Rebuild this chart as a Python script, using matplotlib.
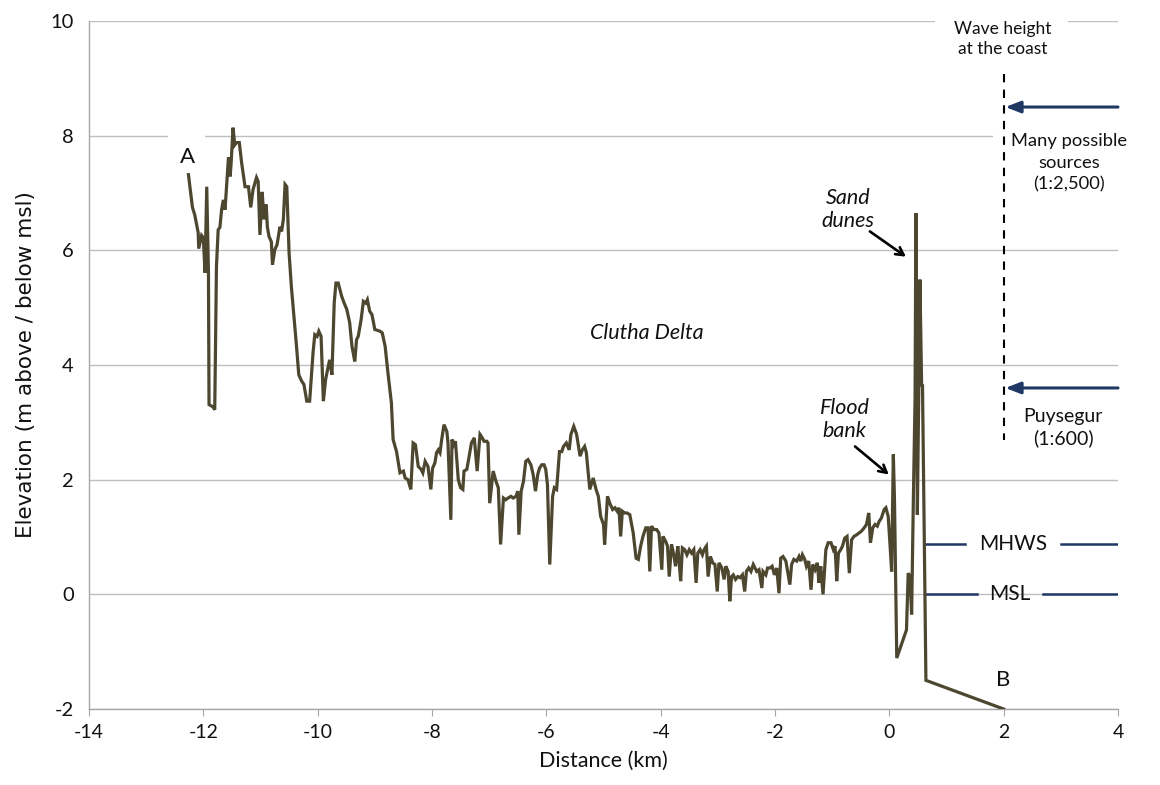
import matplotlib
matplotlib.use("Agg")
import matplotlib.pyplot as plt
from matplotlib.patches import Rectangle

plt.rcParams['font.family'] = ['Lato', 'DejaVu Sans']

# Profile A -> B: distance (km) and elevation (m above / below msl)
distance_km = [
    -12.26, -12.19, -12.15, -12.09, -12.08, -12.03, -12.00, -11.97, -11.94, -11.91,
    -11.90, -11.83, -11.80, -11.77, -11.74, -11.71, -11.68, -11.65, -11.62, -11.56,
    -11.53, -11.51, -11.48, -11.45, -11.42, -11.37, -11.33, -11.27, -11.21, -11.17,
    -11.13, -11.07, -11.04, -11.01, -10.97, -10.94, -10.90, -10.88, -10.85, -10.81,
    -10.79, -10.75, -10.71, -10.66, -10.63, -10.60, -10.57, -10.54, -10.50, -10.46,
    -10.40, -10.37, -10.33, -10.28, -10.24, -10.19, -10.14, -10.08, -10.05, -10.01,
    -9.98, -9.94, -9.90, -9.86, -9.82, -9.79, -9.75, -9.71, -9.68, -9.64,
    -9.58, -9.54, -9.49, -9.44, -9.40, -9.35, -9.32, -9.29, -9.24, -9.20,
    -9.16, -9.13, -9.09, -9.05, -9.00, -8.91, -8.87, -8.82, -8.77, -8.71,
    -8.68, -8.62, -8.56, -8.50, -8.47, -8.42, -8.37, -8.33, -8.29, -8.24,
    -8.19, -8.16, -8.12, -8.07, -8.02, -7.99, -7.95, -7.92, -7.89, -7.86,
    -7.83, -7.79, -7.74, -7.72, -7.67, -7.65, -7.62, -7.59, -7.54, -7.50,
    -7.46, -7.44, -7.39, -7.35, -7.31, -7.26, -7.21, -7.16, -7.12, -7.09,
    -7.04, -7.02, -6.99, -6.93, -6.88, -6.84, -6.80, -6.75, -6.71, -6.67,
    -6.62, -6.58, -6.53, -6.50, -6.48, -6.44, -6.40, -6.36, -6.32, -6.27,
    -6.23, -6.19, -6.15, -6.12, -6.08, -6.04, -6.01, -5.98, -5.94, -5.89,
    -5.86, -5.82, -5.77, -5.73, -5.70, -5.65, -5.60, -5.57, -5.52, -5.47,
    -5.41, -5.37, -5.33, -5.30, -5.24, -5.18, -5.13, -5.09, -5.05, -5.00,
    -4.98, -4.93, -4.89, -4.84, -4.80, -4.76, -4.73, -4.70, -4.67, -4.63,
    -4.59, -4.54, -4.48, -4.43, -4.39, -4.35, -4.31, -4.26, -4.22, -4.19,
    -4.16, -4.12, -4.07, -4.03, -3.98, -3.96, -3.91, -3.88, -3.85, -3.81,
    -3.77, -3.74, -3.70, -3.68, -3.65, -3.62, -3.58, -3.54, -3.50, -3.46,
    -3.42, -3.38, -3.35, -3.31, -3.27, -3.24, -3.20, -3.17, -3.13, -3.09,
    -3.05, -3.01, -2.98, -2.93, -2.89, -2.86, -2.82, -2.79, -2.76, -2.73,
    -2.69, -2.65, -2.61, -2.57, -2.53, -2.50, -2.46, -2.42, -2.38, -2.35,
    -2.32, -2.28, -2.23, -2.21, -2.16, -2.13, -2.09, -2.05, -2.01, -1.97,
    -1.93, -1.90, -1.86, -1.81, -1.78, -1.74, -1.71, -1.67, -1.62, -1.58,
    -1.55, -1.52, -1.48, -1.45, -1.41, -1.37, -1.34, -1.30, -1.26, -1.23,
    -1.20, -1.16, -1.11, -1.07, -1.02, -0.98, -0.95, -0.92, -0.89, -0.85,
    -0.82, -0.78, -0.74, -0.70, -0.66, -0.62, -0.57, -0.53, -0.49, -0.44,
    -0.40, -0.36, -0.33, -0.29, -0.25, -0.21, -0.18, -0.14, -0.09, -0.06,
    -0.02, 0.01, 0.04, 0.07, 0.09, 0.13, 0.30, 0.33, 0.36, 0.39,
    0.42, 0.45, 0.465, 0.48, 0.49, 0.52, 0.535, 0.565, 0.58, 0.64,
    2.00,
]
elevation_m = [
    7.32, 6.75, 6.62, 6.31, 6.03, 6.26, 6.22, 5.61, 7.11, 5.61,
    3.31, 3.27, 3.22, 5.72, 6.36, 6.40, 6.71, 6.88, 6.71, 7.62,
    7.29, 7.58, 8.14, 7.84, 7.88, 7.88, 7.53, 7.11, 7.11, 6.75,
    7.06, 7.27, 7.20, 6.27, 7.02, 6.54, 6.80, 6.41, 6.24, 6.15,
    5.75, 6.01, 6.10, 6.41, 6.33, 6.54, 7.15, 7.11, 5.96, 5.37,
    4.67, 4.33, 3.83, 3.72, 3.66, 3.37, 3.37, 4.22, 4.53, 4.50,
    4.59, 4.50, 3.37, 3.75, 3.95, 4.09, 3.83, 5.09, 5.43, 5.43,
    5.20, 5.09, 4.97, 4.74, 4.33, 4.06, 4.44, 4.50, 4.79, 5.11,
    5.08, 5.14, 4.94, 4.88, 4.62, 4.59, 4.56, 4.33, 3.86, 3.34,
    2.70, 2.49, 2.12, 2.15, 2.03, 2.00, 1.83, 2.64, 2.61, 2.23,
    2.18, 2.12, 2.32, 2.23, 1.83, 2.20, 2.29, 2.47, 2.52, 2.47,
    2.70, 2.96, 2.84, 2.64, 1.30, 2.70, 2.61, 2.67, 2.00, 1.86,
    1.83, 2.15, 2.18, 2.41, 2.64, 2.73, 2.15, 2.79, 2.73, 2.67,
    2.67, 2.64, 1.59, 2.15, 1.97, 1.86, 0.87, 1.68, 1.65, 1.68,
    1.71, 1.68, 1.71, 1.80, 1.04, 1.80, 1.97, 2.32, 2.35, 2.26,
    2.09, 1.80, 2.09, 2.20, 2.26, 2.26, 2.18, 1.91, 0.52, 1.71,
    1.86, 1.83, 2.49, 2.49, 2.58, 2.64, 2.52, 2.79, 2.93, 2.79,
    2.41, 2.52, 2.58, 2.47, 1.83, 2.03, 1.83, 1.71, 1.36, 1.22,
    0.87, 1.71, 1.59, 1.48, 1.51, 1.45, 1.51, 1.01, 1.45, 1.42,
    1.42, 1.39, 1.07, 0.63, 0.61, 0.84, 1.01, 1.16, 1.16, 0.40,
    1.19, 1.13, 1.13, 1.07, 0.43, 1.01, 0.92, 0.84, 0.31, 0.87,
    0.69, 0.49, 0.84, 0.61, 0.23, 0.81, 0.78, 0.69, 0.78, 0.72,
    0.78, 0.20, 0.72, 0.78, 0.69, 0.78, 0.84, 0.31, 0.66, 0.55,
    0.52, 0.05, 0.55, 0.46, 0.26, 0.49, 0.40, -0.12, 0.31, 0.34,
    0.26, 0.31, 0.29, 0.34, 0.05, 0.40, 0.46, 0.40, 0.52, 0.46,
    0.40, 0.43, 0.11, 0.40, 0.34, 0.46, 0.46, 0.49, 0.34, 0.46,
    0.02, 0.63, 0.66, 0.58, 0.40, 0.17, 0.52, 0.61, 0.58, 0.66,
    0.58, 0.69, 0.61, 0.49, 0.58, 0.08, 0.52, 0.43, 0.55, 0.20,
    0.49, 0.00, 0.78, 0.90, 0.90, 0.78, 0.84, 0.23, 0.72, 0.78,
    0.84, 0.98, 1.01, 0.37, 0.95, 1.01, 1.04, 1.07, 1.10, 1.16,
    1.22, 1.42, 0.90, 1.16, 1.22, 1.19, 1.27, 1.33, 1.48, 1.51,
    1.36, 0.90, 0.40, 2.44, 1.65, -1.11, -0.62, 0.37, 0.31, -0.35,
    1.65, 3.40, 6.65, 3.40, 1.39, 3.98, 5.49, 3.63, 3.66, -1.50,
    -2.00,
]

x_ticks = [-14, -12, -10, -8, -6, -4, -2, 0, 2, 4]
y_ticks = [-2, 0, 2, 4, 6, 8, 10]

# reference levels (m)
mhws_level = 0.88
msl_level = 0.0

line_color = '#4D4730'
navy = '#1F3864'
grid_color = '#BFBFBF'
axis_color = '#A6A6A6'
text_color = '#111111'

fig = plt.figure(figsize=(11.6, 7.85), dpi=100)
ax = fig.add_axes([0.0767, 0.0968, 0.8871, 0.8764])
ax.set_xlim(-14, 4)
ax.set_ylim(-2, 10)
ax.set_xticks(x_ticks)
ax.set_yticks(y_ticks)
ax.set_xticklabels([str(v) for v in x_ticks])
ax.set_yticklabels([str(v) for v in y_ticks])

for s in ['top', 'right']:
    ax.spines[s].set_visible(False)
for s in ['left', 'bottom']:
    ax.spines[s].set_color(axis_color)
    ax.spines[s].set_linewidth(1.0)
ax.tick_params(axis='x', direction='out', length=5, color=axis_color,
               labelsize=14, pad=6, labelcolor=text_color)
ax.tick_params(axis='y', length=0, labelsize=14.5, pad=11, labelcolor=text_color)

ax.set_axisbelow(True)
ax.yaxis.grid(True, color=grid_color, linewidth=1.0, zorder=0)
ax.xaxis.grid(False)

# white masks where text boxes interrupt the gridlines
for (x0, x1, yv) in [(0.80, 3.12, 10), (-12.62, -11.97, 8), (1.81, 4.0, 8)]:
    ax.add_patch(Rectangle((x0, yv - 0.06), x1 - x0, 0.12, facecolor='white',
                           edgecolor='none', zorder=1, clip_on=False))

ax.plot(distance_km, elevation_m, color=line_color, linewidth=2.3,
        solid_joinstyle='miter', zorder=3)

# MHWS and MSL markers
ax.plot([0.64, 1.32], [mhws_level, mhws_level], color=navy, lw=1.8, zorder=2)
ax.plot([3.01, 4.0], [mhws_level, mhws_level], color=navy, lw=1.8, zorder=2)
ax.plot([0.64, 1.54], [msl_level, msl_level], color=navy, lw=1.8, zorder=2)
ax.plot([2.69, 4.0], [msl_level, msl_level], color=navy, lw=1.8, zorder=2)
ax.text(2.16, mhws_level, 'MHWS', ha='center', va='center', fontsize=15, color=text_color)
ax.text(2.11, msl_level, 'MSL', ha='center', va='center', fontsize=15, color=text_color)

# wave height dashed line
ax.plot([2.0, 2.0], [9.07, 2.69], color='black', lw=1.5, linestyle=(0, (4, 3.5)), zorder=2)
ax.text(1.99, 9.69, 'Wave height\nat the coast', ha='center', va='center',
        fontsize=12.5, linespacing=1.3, color=text_color)

# source arrows
for yv in [8.5, 3.6]:
    ax.annotate('', xy=(2.03, yv), xytext=(4.0, yv),
                arrowprops=dict(arrowstyle='-|>,head_length=0.9,head_width=0.35',
                                color=navy, lw=2.2, shrinkA=0, shrinkB=0),
                annotation_clip=False)
ax.text(3.15, 7.53, 'Many possible\nsources\n(1:2,500)', ha='center', va='center',
        fontsize=13.2, linespacing=1.45, color=text_color)
ax.text(3.04, 2.91, 'Puysegur\n(1:600)', ha='center', va='center',
        fontsize=14, linespacing=1.3, color=text_color)

# labels
ax.text(-12.28, 7.62, 'A', ha='center', va='center', fontsize=16, color=text_color)
ax.text(1.99, -1.49, 'B', ha='center', va='center', fontsize=16, color=text_color)
ax.text(-4.24, 4.56, 'Clutha Delta', ha='center', va='center', fontsize=15.5,
        style='italic', color=text_color)
ax.text(-0.72, 6.71, 'Sand\ndunes', ha='center', va='center', fontsize=15.5,
        style='italic', linespacing=1.2, color=text_color)
ax.text(-0.78, 3.05, 'Flood\nbank', ha='center', va='center', fontsize=15.5,
        style='italic', linespacing=1.2, color=text_color)
ax.annotate('', xy=(0.29, 5.89), xytext=(-0.34, 6.33),
            arrowprops=dict(arrowstyle='->,head_length=0.55,head_width=0.3',
                            color='black', lw=1.9, shrinkA=0, shrinkB=0))
ax.annotate('', xy=(-0.01, 2.09), xytext=(-0.60, 2.58),
            arrowprops=dict(arrowstyle='->,head_length=0.55,head_width=0.3',
                            color='black', lw=1.9, shrinkA=0, shrinkB=0))

ax.set_xlabel('Distance (km)', fontsize=15.5, labelpad=7, color=text_color)
ax.set_ylabel('Elevation (m above / below msl)', fontsize=15.5, labelpad=10,
              family=['DejaVu Sans'], color=text_color)

fig.savefig('out.png', dpi=100)
